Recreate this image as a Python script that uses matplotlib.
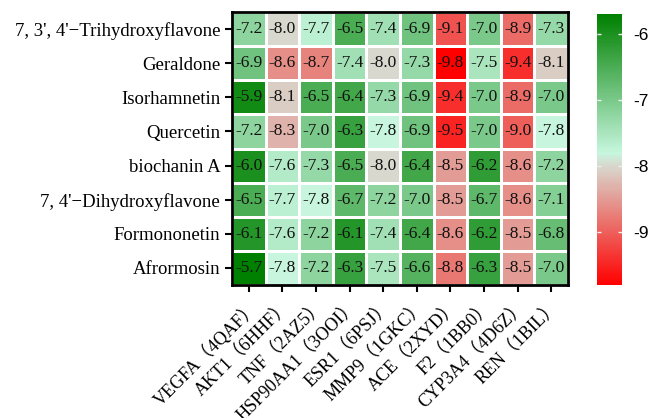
import numpy as np
import matplotlib
matplotlib.use("Agg")
import matplotlib.pyplot as plt
from matplotlib.colors import LinearSegmentedColormap, Normalize

compounds = ["7, 3', 4'\u2212Trihydroxyflavone", "Geraldone", "Isorhamnetin", "Quercetin",
             "biochanin A", "7, 4'\u2212Dihydroxyflavone", "Formononetin", "Afrormosin"]
targets = ["VEGFA（4QAF）", "AKT1（6HHF）", "TNF（2AZ5）", "HSP90AA1（3OOI）", "ESR1（6PSJ）",
           "MMP9（1GKC）", "ACE（2XYD）", "F2（1BB0）", "CYP3A4（4D6Z）", "REN（1BIL）"]

row_trihydroxy = [-7.2, -8.0, -7.7, -6.5, -7.4, -6.9, -9.1, -7.0, -8.9, -7.3]
row_geraldone = [-6.9, -8.6, -8.7, -7.4, -8.0, -7.3, -9.8, -7.5, -9.4, -8.1]
row_isorhamnetin = [-5.9, -8.1, -6.5, -6.4, -7.3, -6.9, -9.4, -7.0, -8.9, -7.0]
row_quercetin = [-7.2, -8.3, -7.0, -6.3, -7.8, -6.9, -9.5, -7.0, -9.0, -7.8]
row_biochanin = [-6.0, -7.6, -7.3, -6.5, -8.0, -6.4, -8.5, -6.2, -8.6, -7.2]
row_dihydroxy = [-6.5, -7.7, -7.8, -6.7, -7.2, -7.0, -8.5, -6.7, -8.6, -7.1]
row_formononetin = [-6.1, -7.6, -7.2, -6.1, -7.4, -6.4, -8.6, -6.2, -8.5, -6.8]
row_afrormosin = [-5.7, -7.8, -7.2, -6.3, -7.5, -6.6, -8.8, -6.3, -8.5, -7.0]

data = np.array([row_trihydroxy, row_geraldone, row_isorhamnetin, row_quercetin,
                 row_biochanin, row_dihydroxy, row_formononetin, row_afrormosin])

vmin, vmax = -9.8, -5.7
cb_ticks = [-6, -7, -8, -9]

def pos(v):
    return (v - vmin) / (vmax - vmin)

cmap = LinearSegmentedColormap.from_list("dock", [
    (pos(-9.8), "#FF0000"),
    (pos(-8.0), "#D8D8CE"),
    (pos(-7.8), "#C6F6DE"),
    (pos(-5.7), "#008000"),
])
norm = Normalize(vmin=vmin, vmax=vmax)

serif = ["Liberation Serif", "Noto Sans CJK SC"]

fig = plt.figure(figsize=(6.52, 4.18), dpi=100)
ax = fig.add_axes([232/652, 1-285/418, 336/652, 273/418])
nr, nc = data.shape
mesh = ax.pcolormesh(np.arange(nc+1), np.arange(nr+1), data, cmap=cmap, norm=norm,
                     edgecolors="white", linewidth=1.0)
ax.set_xlim(0, nc)
ax.set_ylim(nr, 0)

for i in range(nr):
    for j in range(nc):
        ax.text(j+0.5, i+0.5, f"{data[i, j]:.1f}", ha="center", va="center",
                fontsize=12.5, family=serif, color="#111111")

ax.set_yticks(np.arange(nr)+0.5)
ax.set_yticklabels(compounds, family=serif, fontsize=13.5)
ax.set_xticks(np.arange(nc)+0.5)
ax.set_xticklabels(targets, family=serif, fontsize=13,
                   rotation=45, ha="right", rotation_mode="anchor")
ax.tick_params(axis="both", direction="out", length=5, width=1.5, color="black")
ax.tick_params(axis="x", pad=4)
for s in ax.spines.values():
    s.set_linewidth(2)
    s.set_color("black")

cax = fig.add_axes([597/652, 1-285/418, 25/652, 271/418])
cb = fig.colorbar(mesh, cax=cax, ticks=cb_ticks)
cb.outline.set_visible(False)
cax.set_yticklabels([str(t) for t in cb_ticks], family=["Liberation Sans"], fontsize=12.5)
cax.tick_params(axis="y", direction="in", length=3, width=1, color="#EEEEEE",
                left=True, right=True, pad=8)

fig.savefig("out.png", dpi=100)
